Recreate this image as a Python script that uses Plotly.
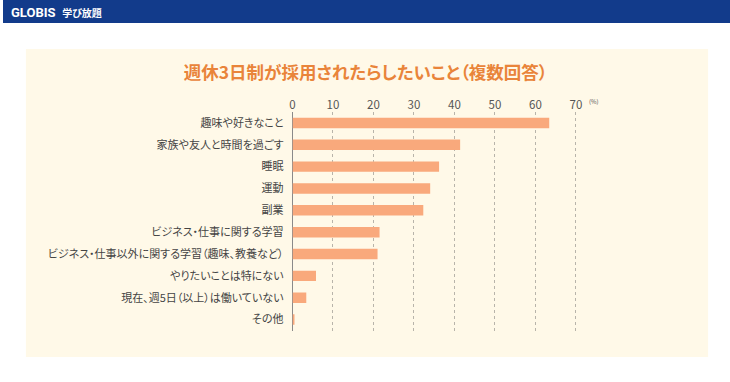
import plotly.graph_objects as go

categories = [
    "趣味や好きなこと",
    "家族や友人と時間を過ごす",
    "睡眠",
    "運動",
    "副業",
    "ビジネス・仕事に関する学習",
    "ビジネス・仕事以外に関する学習（趣味、教養など）",
    "やりたいことは特にない",
    "現在、週5日（以上）は働いていない",
    "その他",
]
values = [63.4, 41.4, 36.2, 34.0, 32.3, 21.5, 21.0, 5.8, 3.4, 0.3]
tick_vals = [0, 10, 20, 30, 40, 50, 60, 70]
title_text = "週休3日制が採用されたらしたいこと（複数回答）"
unit_text = "(%)"
brand_text = "GLOBIS"
brand_sub = "学び放題"

W, H = 730, 382
FONT = "Noto Sans CJK JP"

def px(x):
    return x / W

def py(y):
    return 1 - y / H

# plot area in pixels
L, R = 290.7, 290.7 + 4.066 * 75
T, B = 112.0, 330.5

fig = go.Figure()
fig.add_trace(go.Bar(
    x=values, y=categories, orientation="h",
    marker=dict(color="#F9A97C", line=dict(width=0)),
    width=0.48, hoverinfo="x+y",
))

fig.update_layout(
    width=W, height=H,
    margin=dict(l=0, r=0, t=0, b=0),
    paper_bgcolor="#FFFFFF",
    plot_bgcolor="rgba(0,0,0,0)",
    showlegend=False,
    font=dict(family=FONT, color="#444444"),
    xaxis=dict(
        domain=[px(L), px(R)], range=[0, 75], side="top",
        tickvals=tick_vals, ticks="", showgrid=True,
        gridcolor="#B8B4AA", griddash="dot", gridwidth=1,
        zeroline=True, zerolinecolor="#8A8A8A", zerolinewidth=1,
        tickfont=dict(size=11.5, color="#555555", family=FONT),
        fixedrange=True,
    ),
    yaxis=dict(
        domain=[py(B), py(T)], range=[9.5, -0.5],
        categoryorder="array", categoryarray=categories,
        ticks="", showgrid=False, zeroline=False,
        tickfont=dict(size=11, color="#444444", family=FONT),
        ticklabelstandoff=8,
        fixedrange=True,
    ),
    shapes=[
        dict(type="rect", xref="paper", yref="paper", x0=0, x1=1, y0=py(23), y1=1,
             fillcolor="#123B8B", line=dict(width=0), layer="below"),
        dict(type="rect", xref="paper", yref="paper", x0=px(23), x1=px(708), y0=py(357), y1=py(49),
             fillcolor="#FFF9E8", line=dict(width=0), layer="below"),
    ],
    annotations=[
        dict(text=f"<b>{title_text}</b>", xref="paper", yref="paper", x=px(364), y=py(72),
             showarrow=False, font=dict(size=17.5, color="#E9843A", family=FONT),
             xanchor="center", yanchor="middle"),
        dict(text=unit_text, xref="x", yref="paper", x=72.8, y=py(101.5),
             showarrow=False, font=dict(size=6, color="#555555", family=FONT),
             xanchor="left", yanchor="middle"),
        dict(text=f"<b>{brand_text}</b>", xref="paper", yref="paper", x=px(6), y=py(12),
             showarrow=False, font=dict(size=13, color="#FFFFFF", family="Roboto"),
             xanchor="left", yanchor="middle"),
        dict(text=f"<b>{brand_sub}</b>", xref="paper", yref="paper", x=px(57), y=py(12.5),
             showarrow=False, font=dict(size=10, color="#FFFFFF", family=FONT),
             xanchor="left", yanchor="middle"),
    ],
)

post = """
document.body.style.margin = '0';
document.body.style.padding = '0';
var st = document.createElement('style');
st.textContent = 'svg text { font-feature-settings: "palt" 1; }';
document.head.appendChild(st);
"""

fig.write_html("out.html", post_script=post, config={"displayModeBar": False})
